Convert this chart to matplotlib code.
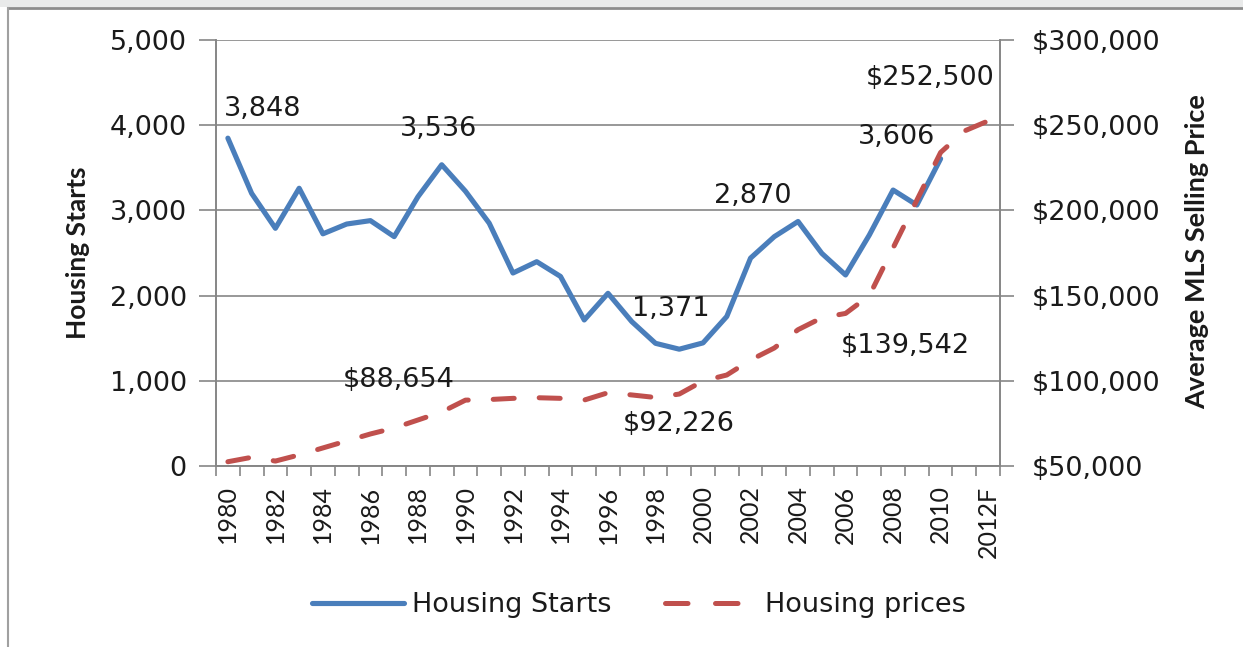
import numpy as np
import matplotlib
matplotlib.use('Agg')
import matplotlib.pyplot as plt
from matplotlib.ticker import FuncFormatter
from matplotlib.lines import Line2D
from matplotlib.patches import Rectangle

plt.rcParams['font.family'] = ['DejaVu Sans']

# categories and series
years = ['1980', '1981', '1982', '1983', '1984', '1985', '1986', '1987', '1988', '1989',
         '1990', '1991', '1992', '1993', '1994', '1995', '1996', '1997', '1998', '1999',
         '2000', '2001', '2002', '2003', '2004', '2005', '2006', '2007', '2008', '2009',
         '2010', '2011', '2012F']

housing_starts = [3848, 3200, 2790, 3260, 2725, 2840, 2880, 2692, 3160, 3536,
                  3225, 2850, 2265, 2398, 2225, 1714, 2027, 1695, 1440, 1371,
                  1445, 1755, 2440, 2692, 2870, 2496, 2242, 2711, 3239, 3063,
                  3606]

housing_prices = [52500, 55100, 52900, 56500, 60600, 64700, 68800, 72300, 77000, 81700,
                  88654, 89000, 89700, 90080, 89700, 88700, 93000, 91700, 90200, 92226,
                  99900, 103400, 112200, 119250, 130000, 137000, 139542, 150000, 178000, 206000,
                  234000, 246600, 252500]

# (year index, label) for the value labels
starts_labels = [(0, '3,848'), (9, '3,536'), (19, '1,371'), (24, '2,870'), (30, '3,606')]
price_labels = [(10, '$88,654'), (19, '$92,226'), (26, '$139,542'), (32, '$252,500')]

blue = '#4a7ebb'
red = '#c0504d'
grey = '#868686'
txt = '#1a1a1a'
fs = 19.5          # horizontal text
vfs = 18           # rotated category labels

fig = plt.figure(figsize=(12.43, 6.47), dpi=100)
ax = fig.add_axes([216/1243, 1-466/647, 784/1243, 426/647])
ax2 = ax.twinx()

x_start = np.arange(len(housing_starts))
x_price = np.arange(len(housing_prices))

ax.plot(x_start, housing_starts, color=blue, lw=3.7, solid_joinstyle='round', solid_capstyle='round')
# dash length chosen so a dash ends on the 2012F point, as in the original
ax2.plot(x_price, housing_prices, color=red, lw=3.6, dashes=(4.2, 5.0), dash_capstyle='round')

ax.set_xlim(-0.5, len(years) - 0.5)
ax.set_ylim(0, 5000)
ax2.set_ylim(50000, 300000)

ax.set_yticks(np.arange(0, 5001, 1000))
ax2.set_yticks(np.arange(50000, 300001, 50000))
ax.yaxis.set_major_formatter(FuncFormatter(lambda v, p: '{:,.0f}'.format(v)))
ax2.yaxis.set_major_formatter(FuncFormatter(lambda v, p: '${:,.0f}'.format(v)))
ax.grid(axis='y', color=grey, lw=1.2)
ax.set_axisbelow(True)

# category axis: tick marks between categories, labels on every other year
ax.set_xticks(np.arange(-0.5, len(years), 1.0))
ax.set_xticklabels([])
ax.set_xticks(np.arange(0, len(years), 2), minor=True)
ax.set_xticklabels(years[::2], minor=True, rotation=90, fontfamily=['Lato', 'DejaVu Sans'])
ax.tick_params(axis='x', which='major', length=7, width=1.2, color=grey, direction='out')
ax.tick_params(axis='x', which='minor', length=0, pad=14, labelsize=vfs, labelcolor=txt)
ax.tick_params(axis='y', length=12, width=1.2, color=grey, pad=9, labelsize=fs, labelcolor=txt)
ax2.tick_params(axis='y', length=10, width=1.2, color=grey, pad=13, labelsize=fs, labelcolor=txt)

for a in (ax, ax2):
    for s in a.spines.values():
        s.set_color(grey)
        s.set_linewidth(1.2)
    a.spines['top'].set_visible(False)

fig.text(77.5/1243, 1-253/647, 'Housing Starts', rotation=90, ha='center', va='center',
         fontsize=19, fontweight='bold', color=txt, family=['Lato', 'DejaVu Sans'])
fig.text(1197/1243, 1-252/647, 'Average MLS Selling Price', rotation=90, ha='center', va='center',
         fontsize=19.5, fontweight='bold', color=txt, family=['Lato', 'DejaVu Sans'])

# value labels, offsets in pixels from the data point
start_off = {0: (35, 29), 9: (-3, 36), 19: (-8, 40), 24: (-45, 25), 30: (-44, 22)}
for i, s in starts_labels:
    ax.annotate(s, (i, housing_starts[i]), xytext=start_off[i], textcoords='offset pixels',
                ha='center', va='center', fontsize=fs, color=txt)
price_off = {10: (-67, 20), 19: (-1, -30), 26: (60, -33), 32: (-58, 43)}
for i, s in price_labels:
    ax2.annotate(s, (i, housing_prices[i]), xytext=price_off[i], textcoords='offset pixels',
                 ha='center', va='center', fontsize=fs, color=txt)

# legend below the chart
handles = [Line2D([], [], color=blue, lw=3.7, solid_capstyle='round'),
           Line2D([], [], color=red, lw=3.6, dashes=(4.5, 5.5), dash_capstyle='round')]
fig.legend(handles, ['Housing Starts', 'Housing prices'], loc='center',
           bbox_to_anchor=(639/1243, 1-605/647), ncol=2, frameon=False, fontsize=fs,
           handlelength=3.4, handletextpad=0.3, columnspacing=1.95, labelcolor=txt)

# screenshot frame
fig.add_artist(Rectangle((0, 1-7/647), 1, 7/647, transform=fig.transFigure,
                         facecolor='#e9eaea', edgecolor='none'))
fig.add_artist(Line2D([8/1243, 1], [1-8/647, 1-8/647], transform=fig.transFigure, color='#8c8c8c', lw=2))
fig.add_artist(Line2D([8/1243, 8/1243], [0, 1-8/647], transform=fig.transFigure, color='#a0a0a0', lw=1.5))

fig.savefig('out.png', dpi=100)
